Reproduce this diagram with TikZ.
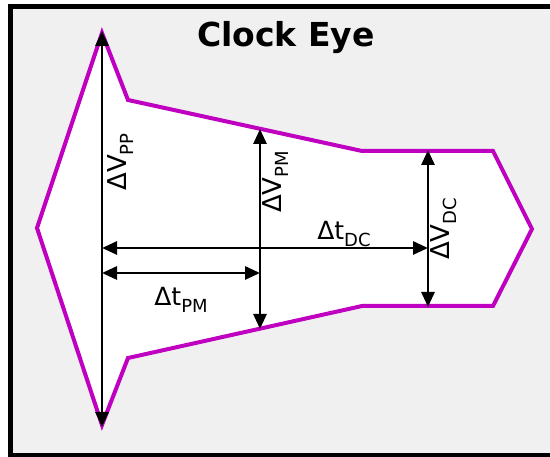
\documentclass[tikz,border=0pt]{standalone}
\usepackage{fontspec}
\setmainfont{DejaVu Sans}
\usetikzlibrary{arrows.meta}
\definecolor{eyemag}{RGB}{192,0,192}
\definecolor{bggray}{RGB}{240,240,240}
\newcommand{\dV}[1]{{\fontsize{26}{26}\selectfont ΔV}\raisebox{-7pt}{\fontsize{18}{18}\selectfont #1}}
\newcommand{\dT}[1]{{\fontsize{25}{25}\selectfont Δt}\raisebox{-7pt}{\fontsize{18}{18}\selectfont #1}}
\begin{document}
\begin{tikzpicture}[x=1pt,y=-1pt,
  dimline/.style={line width=2.8pt, {Triangle[length=15pt,width=13pt]}-{Triangle[length=15pt,width=13pt]}},
  lbl/.style={inner sep=0pt, outer sep=0pt}]
\useasboundingbox (0,0) rectangle (550,457);
\fill[white] (0,0) rectangle (550,457);
\draw[line width=5pt, fill=bggray] (10.5,7) rectangle (600,455.5);
% eye outline
\draw[eyemag, line width=4pt, fill=white, line join=miter]
  (37,228) -- (102,33) -- (128,100) -- (362,151) -- (493,151) -- (532,229)
  -- (493,306) -- (362,306) -- (128,358) -- (102,425) -- cycle;
% anchor points
\coordinate (ppT) at (102,31);
\coordinate (ppB) at (102,427);
\coordinate (pmT) at (260,129);
\coordinate (pmB) at (260,329);
\coordinate (dcT) at (428,150);
\coordinate (dcB) at (428,307);
\coordinate (tdcL) at (102,248);
\coordinate (tdcR) at (428,248);
\coordinate (tpmL) at (102,273);
\coordinate (tpmR) at (260,273);
% dimension arrows
\draw[dimline] (ppT) -- (ppB);
\draw[dimline] (pmT) -- (pmB);
\draw[dimline] (dcT) -- (dcB);
\draw[dimline] (tdcL) -- (tdcR);
\draw[dimline] (tpmL) -- (tpmR);
% labels
\node[lbl, rotate=90] (lpp) at (121,162) {\dV{PP}};
\node[lbl, rotate=90] (lpm) at (276,182) {\dV{PM}};
\node[lbl, rotate=90] (ldc) at (444,229) {\dV{DC}};
\node[lbl] (ltdc) at (344,234) {\dT{DC}};
\node[lbl] (ltpm) at (181,300) {\dT{PM}};
\node[lbl, anchor=base] (title) at (286,47) {\fontsize{33}{33}\selectfont\bfseries Clock Eye};
\end{tikzpicture}
\end{document}
